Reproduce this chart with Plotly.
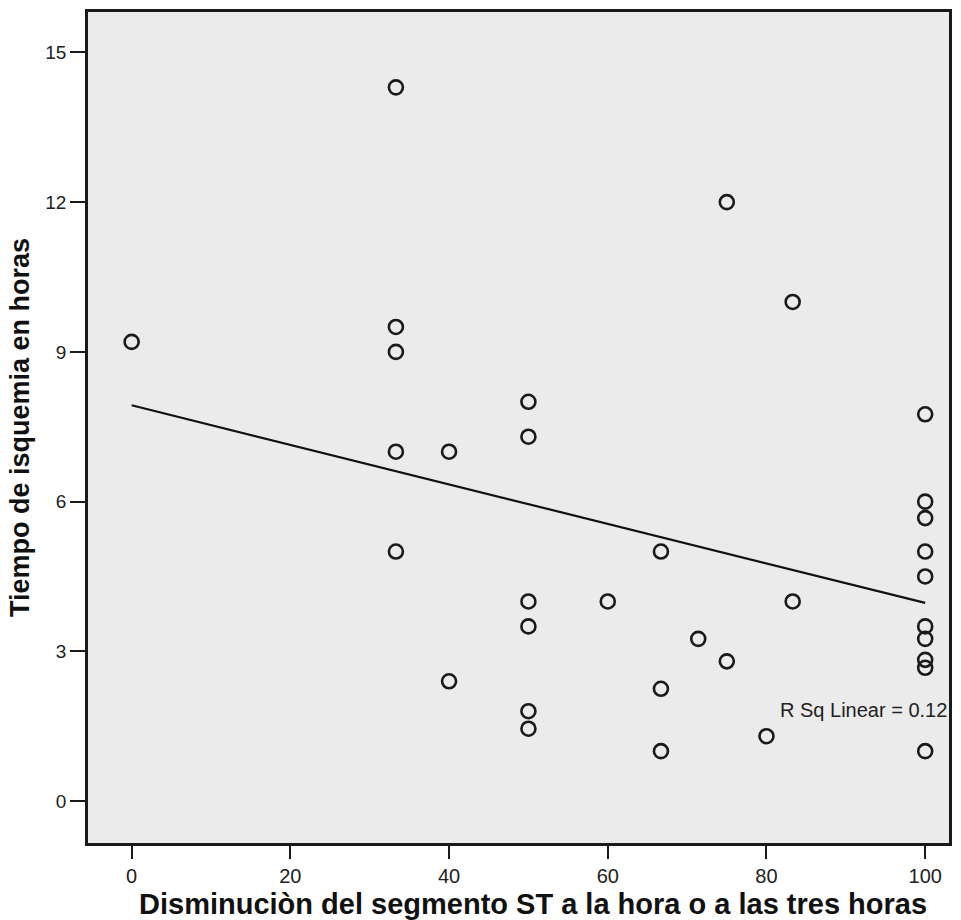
import plotly.graph_objects as go

# Data (x: % ST reduction, y: ischemia time in hours)
st_reduction = [0, 33.3, 33.3, 33.3, 33.3, 33.3, 40, 40,
                50, 50, 50, 50, 50, 50, 60, 66.7, 66.7, 66.7,
                71.4, 75, 75, 80, 83.3, 83.3,
                100, 100, 100, 100, 100, 100, 100, 100, 100, 100]
ischemia_hours = [9.2, 14.3, 9.5, 9.0, 7.0, 5.0, 7.0, 2.4,
                  8.0, 7.3, 4.0, 3.5, 1.8, 1.45, 4.0, 5.0, 2.25, 1.0,
                  3.25, 12.0, 2.8, 1.3, 10.0, 4.0,
                  7.75, 6.0, 5.67, 5.0, 4.5, 3.5, 3.25, 2.83, 2.67, 1.0]
# Linear fit line as drawn in the reference
fit_x = [0, 100]
fit_y = [7.93, 3.97]
x_ticks = [0, 20, 40, 60, 80, 100]
y_ticks = [0, 3, 6, 9, 12, 15]
r2_label = "R Sq Linear = 0.12"
x_title = "Disminuciòn del segmento ST a la hora o a las tres horas"
y_title = "Tiempo de isquemia en horas"

font_family = "Liberation Sans, Arial, sans-serif"

fig = go.Figure()
fig.add_trace(go.Scatter(
    x=st_reduction, y=ischemia_hours, mode="markers",
    marker=dict(symbol="circle-open", size=14, color="#1a1a1a",
                line=dict(width=2.6, color="#1a1a1a")),
    showlegend=False, hoverinfo="x+y"))
fig.add_trace(go.Scatter(
    x=fit_x, y=fit_y, mode="lines",
    line=dict(color="#111111", width=2.2),
    showlegend=False, hoverinfo="skip"))

fig.add_annotation(text=r2_label, xref="paper", yref="y", x=1.0, y=1.82,
                   xanchor="right", yanchor="middle", showarrow=False,
                   font=dict(family=font_family, size=20, color="#222222"))

# x-axis title (sits slightly right of the plot centre in the reference)
fig.add_annotation(text="<b>" + x_title + "</b>", xref="paper", yref="paper",
                   x=0.517, y=0, yshift=-43, xanchor="center", yanchor="top",
                   showarrow=False,
                   font=dict(family=font_family, size=29, color="#111111"))

fig.update_layout(
    width=961, height=920,
    margin=dict(l=88, r=9, t=12, b=77),
    paper_bgcolor="white", plot_bgcolor="#ebebeb",
    font=dict(family=font_family, color="#222222"),
    xaxis=dict(range=[-5.5, 103.0], tickvals=x_ticks, ticks="outside",
               ticklen=13, tickwidth=2, tickcolor="#1a1a1a",
               showgrid=False, zeroline=False,
               showline=True, linewidth=2.5, linecolor="#1a1a1a", mirror=True,
               tickfont=dict(size=20, family=font_family, color="#222222")),
    yaxis=dict(range=[-0.84, 15.81], tickvals=y_ticks, ticks="outside",
               ticklen=15, tickwidth=2, tickcolor="#1a1a1a",
               showgrid=False, zeroline=False,
               showline=True, linewidth=2.5, linecolor="#1a1a1a", mirror=True,
               tickfont=dict(size=19, family=font_family, color="#222222"),
               title=dict(text="<b>" + y_title + "</b>",
                          font=dict(size=27, family=font_family, color="#111111"),
                          standoff=8)),
)

fig.write_html("out.html")
